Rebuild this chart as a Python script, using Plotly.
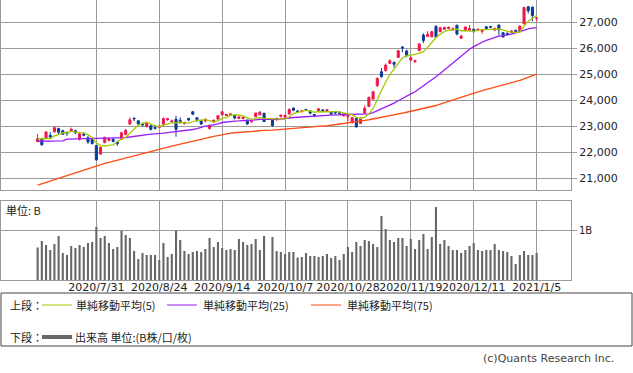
import plotly.graph_objects as go

W, H = 633, 373

dates = [
    "2020/7/9", "2020/7/10", "2020/7/13", "2020/7/14", "2020/7/15", "2020/7/16", "2020/7/17", "2020/7/20",
    "2020/7/21", "2020/7/22", "2020/7/27", "2020/7/28", "2020/7/29", "2020/7/30", "2020/7/31",
    "2020/8/3", "2020/8/4", "2020/8/5", "2020/8/6", "2020/8/7", "2020/8/11", "2020/8/12", "2020/8/13",
    "2020/8/14", "2020/8/17", "2020/8/18", "2020/8/19", "2020/8/20", "2020/8/21", "2020/8/24", "2020/8/25",
    "2020/8/26", "2020/8/27", "2020/8/28", "2020/8/31",
    "2020/9/1", "2020/9/2", "2020/9/3", "2020/9/4", "2020/9/7", "2020/9/8", "2020/9/9", "2020/9/10",
    "2020/9/11", "2020/9/14", "2020/9/15", "2020/9/16", "2020/9/17", "2020/9/18", "2020/9/23", "2020/9/24",
    "2020/9/25", "2020/9/28", "2020/9/29", "2020/9/30",
    "2020/10/1", "2020/10/2", "2020/10/5", "2020/10/6", "2020/10/7", "2020/10/8", "2020/10/9", "2020/10/12",
    "2020/10/13", "2020/10/14", "2020/10/15", "2020/10/16", "2020/10/19", "2020/10/20", "2020/10/21",
    "2020/10/22", "2020/10/23", "2020/10/26", "2020/10/27", "2020/10/28", "2020/10/29", "2020/10/30",
    "2020/11/2", "2020/11/4", "2020/11/5", "2020/11/6", "2020/11/9", "2020/11/10", "2020/11/11", "2020/11/12",
    "2020/11/13", "2020/11/16", "2020/11/17", "2020/11/18", "2020/11/19", "2020/11/20", "2020/11/24",
    "2020/11/25", "2020/11/26", "2020/11/27", "2020/11/30",
    "2020/12/1", "2020/12/2", "2020/12/3", "2020/12/4", "2020/12/7", "2020/12/8", "2020/12/9", "2020/12/10",
    "2020/12/11", "2020/12/14", "2020/12/15", "2020/12/16", "2020/12/17", "2020/12/18", "2020/12/21",
    "2020/12/22", "2020/12/23", "2020/12/24", "2020/12/25", "2020/12/28", "2020/12/29", "2020/12/30",
    "2021/1/4", "2021/1/5",
]

opens = [
    22410, 22530, 22540, 22650, 22790, 22920, 22830, 22760, 22820, 22830,
    22500, 22700, 22560, 22540, 22260, 21930, 22370, 22460, 22500, 22400,
    22500, 22680, 23090, 23310, 23210, 23090, 22990, 23020, 22960, 22950,
    23080, 23260, 23180, 23270, 23230, 23100, 23300, 23560, 23330, 23220,
    23200, 22920, 23170, 23280, 23440, 23410, 23420, 23430, 23300, 23300,
    23240, 23170, 23370, 23440, 23500, None, 23240, 23260, 23380, 23360,
    23470, 23700, 23590, 23560, 23650, 23590, 23460, 23560, 23630, 23570,
    23540, 23540, 23550, 23400, 23370, 23140, 23300, 23110, 23510, 23760,
    24050, 24560, 25100, 25140, 25420, 25460, 25650, 26050, 25900, 25550,
    25480, 25910, 26510, 26450, 26440, 26850, 26640, 26730, 26760, 26700,
    26890, 26390, 26680, 26700, 26730, 26700, 26650, 26830, 26840, 26700,
    26900, 26600, 26580, 26600, 26690, 26650, 26940, 27600, 27580, 27150,
]

highs = [
    22700, 22560, 22800, 22780, 22990, 22940, 22870, 22810, 22950, 22870,
    22760, 22760, 22620, 22560, 22280, 22230, 22600, 22560, 22560, 22430,
    22790, 22900, 23340, 23340, 23250, 23150, 23130, 23040, 23050, 23060,
    23340, 23330, 23260, 23400, 23340, 23180, 23330, 23580, 23360, 23260,
    23300, 23070, 23260, 23420, 23580, 23480, 23500, 23440, 23380, 23370,
    23250, 23230, 23520, 23590, 23520, None, 23260, 23320, 23440, 23450,
    23690, 23720, 23630, 23630, 23660, 23610, 23470, 23700, 23660, 23660,
    23570, 23560, 23560, 23510, 23460, 23360, 23340, 23350, 23800, 24150,
    24370, 24890, 25240, 25420, 25580, 25490, 25940, 26080, 25950, 25680,
    25560, 26200, 26580, 26660, 26660, 26870, 26830, 26830, 26830, 26800,
    26900, 26520, 26840, 26890, 26760, 26760, 26700, 26850, 26860, 26800,
    26900, 26620, 26600, 26700, 26720, 26880, 27600, 27620, 27610, 27200,
]

lows = [
    22390, 22250, 22530, 22520, 22760, 22690, 22680, 22630, 22800, 22700,
    22450, 22620, 22330, 22300, 21680, 21900, 22350, 22410, 22380, 22250,
    22480, 22660, 23050, 23200, 23050, 23000, 22960, 22840, 22880, 22950,
    23060, 23210, 23140, 22600, 23100, 23070, 23200, 23430, 23200, 23050,
    23150, 22870, 23130, 23250, 23430, 23400, 23410, 23270, 23280, 23260,
    23060, 23150, 23350, 23430, 23170, None, 22980, 23200, 23340, 23300,
    23460, 23580, 23520, 23540, 23600, 23460, 23350, 23550, 23540, 23560,
    23440, 23470, 23480, 23390, 23200, 23100, 22950, 23090, 23480, 23740,
    24020, 24520, 24880, 25110, 25400, 25250, 25630, 25850, 25650, 25500,
    25460, 25900, 26200, 26440, 26430, 26400, 26620, 26700, 26740, 26680,
    26500, 26360, 26660, 26640, 26600, 26680, 26560, 26720, 26780, 26680,
    26490, 26420, 26500, 26580, 26620, 26600, 26920, 27340, 27040, 27040,
]

closes = [
    22529, 22291, 22785, 22587, 22946, 22770, 22696, 22717, 22884, 22752,
    22716, 22657, 22397, 22339, 21710, 22195, 22574, 22515, 22418, 22330,
    22750, 22844, 23250, 23289, 23097, 23051, 23111, 22881, 22920, 22986,
    23297, 23291, 23209, 22883, 23140, 23138, 23247, 23466, 23205, 23090,
    23274, 23033, 23235, 23406, 23559, 23455, 23476, 23319, 23360, 23346,
    23088, 23205, 23512, 23539, 23185, None, 23030, 23312, 23434, 23423,
    23647, 23620, 23559, 23602, 23627, 23507, 23411, 23671, 23567, 23639,
    23474, 23517, 23494, 23486, 23419, 23332, 22977, 23295, 23695, 24105,
    24325, 24840, 24906, 25350, 25521, 25386, 25907, 26015, 25728, 25634,
    25527, 26166, 26297, 26537, 26645, 26434, 26788, 26801, 26809, 26751,
    26547, 26467, 26818, 26756, 26653, 26732, 26688, 26757, 26807, 26763,
    26714, 26436, 26525, 26668, 26657, 26854, 27568, 27444, 27258, 27159,
]

ma5 = [
    22521, 22518, 22532, 22526, 22628, 22676, 22757, 22743, 22803, 22764,
    22753, 22745, 22681, 22572, 22364, 22260, 22243, 22267, 22282, 22406,
    22517, 22571, 22718, 22893, 23046, 23106, 23160, 23086, 23012, 22990,
    23039, 23075, 23141, 23133, 23164, 23132, 23123, 23175, 23239, 23229,
    23256, 23214, 23167, 23208, 23301, 23338, 23426, 23443, 23434, 23391,
    23318, 23264, 23302, 23338, 23306, None, 23294, 23316, 23300, 23277,
    23369, 23487, 23537, 23570, 23611, 23583, 23541, 23564, 23557, 23559,
    23552, 23574, 23538, 23522, 23478, 23450, 23342, 23302, 23344, 23481,
    23679, 24052, 24374, 24705, 24988, 25201, 25414, 25636, 25711, 25734,
    25762, 25814, 25870, 26032, 26234, 26416, 26540, 26641, 26695, 26717,
    26739, 26675, 26678, 26668, 26648, 26685, 26729, 26717, 26727, 26749,
    26746, 26695, 26649, 26621, 26600, 26628, 26854, 27038, 27156, 27257,
]

ma25 = [
    22425, 22428, 22430, 22432, 22435, 22438, 22440, 22505, 22510, 22512,
    22515, 22518, 22520, 22522, 22520, 22522, 22527, 22532, 22536, 22540,
    22545, 22567, 22588, 22615, 22642, 22662, 22695, 22699, 22712, 22714,
    22735, 22759, 22779, 22778, 22794, 22811, 22834, 22877, 22912, 22967,
    23010, 23029, 23057, 23097, 23146, 23174, 23200, 23202, 23205, 23215,
    23217, 23220, 23246, 23270, 23278, None, 23268, 23269, 23277, 23299,
    23319, 23339, 23351, 23356, 23374, 23390, 23396, 23421, 23434, 23444,
    23440, 23443, 23444, 23450, 23453, 23452, 23448, 23451, 23459, 23481,
    23527, 23599, 23663, 23740, 23823, 23893, 23985, 24083, 24168, 24248,
    24329, 24439, 24544, 24663, 24783, 24902, 25032, 25165, 25297, 25431,
    25559, 25699, 25840, 25962, 26064, 26161, 26234, 26308, 26367, 26416,
    26470, 26491, 26511, 26549, 26590, 26643, 26699, 26745, 26773, 26794,
]

ma75 = [
    20742, 20795, 20848, 20900, 20952, 21005, 21058, 21110, 21163, 21216,
    21268, 21321, 21374, 21430, 21480, 21525, 21570, 21612, 21655, 21700,
    21745, 21790, 21830, 21872, 21915, 21958, 22000, 22040, 22080, 22118,
    22155, 22195, 22235, 22275, 22315, 22355, 22395, 22433, 22470, 22505,
    22540, 22575, 22610, 22645, 22680, 22712, 22735, 22752, 22768, 22782,
    22795, 22807, 22818, 22829, 22840, None, 22851, 22862, 22874, 22886,
    22899, 22912, 22925, 22938, 22951, 22965, 22979, 22993, 23008, 23023,
    23040, 23060, 23080, 23102, 23125, 23150, 23175, 23200, 23225, 23252,
    23280, 23308, 23338, 23370, 23402, 23435, 23470, 23505, 23540, 23575,
    23610, 23645, 23680, 23717, 23755, 23800, 23850, 23905, 23960, 24015,
    24070, 24125, 24178, 24230, 24280, 24325, 24368, 24410, 24450, 24490,
    24530, 24570, 24610, 24660, 24710, 24765, 24820, 24880, 24945, 25010,
]

volume_b = [
    0.65, 0.78, 0.70, 0.60, 0.72, 0.88, 0.54, 0.50, 0.68, 0.64,
    0.70, 0.66, 0.74, 0.76, 1.06, 0.84, 0.88, 0.74, 0.62, 0.66,
    0.99, 0.90, 0.84, 0.58, 0.42, 0.54, 0.50, 0.50, 0.50, 0.40,
    0.74, 0.46, 0.52, 0.99, 0.80, 0.58, 0.52, 0.56, 0.58, 0.56,
    0.62, 0.84, 0.66, 0.76, 0.64, 0.60, 0.62, 0.60, 0.82, 0.76,
    0.70, 0.72, 0.82, 0.60, 0.88, None, 0.86, 0.58, 0.56, 0.52,
    0.56, 0.56, 0.45, 0.46, 0.54, 0.48, 0.48, 0.46, 0.48, 0.52,
    0.44, 0.48, 0.40, 0.52, 0.66, 0.56, 0.76, 0.68, 0.80, 0.78,
    0.72, 0.66, 1.28, 1.02, 0.80, 0.76, 0.84, 0.84, 0.68, 0.82,
    0.62, 0.80, 0.92, 0.62, 0.86, 1.46, 0.72, 0.80, 0.68, 0.60,
    0.60, 0.54, 0.60, 0.68, 0.74, 0.60, 0.58, 0.60, 0.60, 0.72,
    0.60, 0.58, 0.56, 0.48, 0.32, 0.50, 0.58, 0.50, 0.50, 0.54,
]

date_ticks = ["2020/7/31", "2020/8/24", "2020/9/14", "2020/10/7",
              "2020/10/28", "2020/11/19", "2020/12/11", "2021/1/5"]
price_ticks = [21000, 22000, 23000, 24000, 25000, 26000, 27000]
volume_ticks = [1]
volume_tick_text = ["1B"]

legend_items = ["単純移動平均(5)", "単純移動平均(25)", "単純移動平均(75)"]

RED = "#f2174a"
BLUE = "#0b3a98"
GREEN = "#a2c800"
PURPLE = "#9b1cf2"
ORANGE = "#ff4a12"
GRID = "#9a9a9a"
VOLC = "#676767"
JP = "Noto Sans CJK JP, DejaVu Sans"


def px(x):
    return x / W


def py(y):
    return 1 - y / H


fig = go.Figure()
fig.add_trace(go.Candlestick(
    x=dates, open=opens, high=highs, low=lows, close=closes,
    increasing=dict(line=dict(color=RED, width=1), fillcolor=RED),
    decreasing=dict(line=dict(color=BLUE, width=1), fillcolor=BLUE),
    whiskerwidth=0, xaxis="x", yaxis="y", showlegend=False, hoverinfo="skip",
))
for vals, col in [(ma75, ORANGE), (ma25, PURPLE), (ma5, GREEN)]:
    fig.add_trace(go.Scatter(
        x=dates, y=vals, mode="lines", line=dict(color=col, width=1.3),
        connectgaps=True, xaxis="x", yaxis="y", showlegend=False, hoverinfo="skip",
    ))
fig.add_trace(go.Bar(
    x=dates, y=volume_b, marker=dict(color=VOLC, line=dict(width=0)),
    xaxis="x2", yaxis="y2", showlegend=False, hoverinfo="skip",
))

xdom = [px(1), px(571)]
xrange = [-8.74, 127.2]
common_x = dict(
    type="category", categoryorder="array", categoryarray=dates,
    domain=xdom, range=xrange, tickmode="array", tickvals=date_ticks,
    showgrid=True, gridcolor=GRID, gridwidth=1, showline=True, linecolor=GRID,
    linewidth=1, mirror=True, ticks="", zeroline=False, fixedrange=True,
    automargin=False,
)

fig.update_layout(
    width=W, height=H,
    margin=dict(l=0, r=0, t=0, b=0, autoexpand=False),
    paper_bgcolor="white", plot_bgcolor="white",
    font=dict(family="DejaVu Sans, Noto Sans CJK JP", size=11, color="#222"),
    bargap=0.5,
    xaxis=dict(common_x, anchor="y", showticklabels=False, rangeslider=dict(visible=False)),
    xaxis2=dict(common_x, anchor="y2", showticklabels=True, tickangle=0,
                ticklabelstandoff=-3, tickfont=dict(size=11, color="#222")),
    yaxis=dict(
        domain=[py(190), py(0)], range=[20550, 27858], side="right", anchor="x",
        tickmode="array", tickvals=price_ticks, tickformat=",d",
        ticks="outside", ticklen=5, tickcolor=GRID,
        showgrid=True, gridcolor=GRID, showline=True, linecolor=GRID, mirror=True,
        zeroline=False, fixedrange=True, automargin=False,
        tickfont=dict(size=11, color="#222"),
    ),
    yaxis2=dict(
        domain=[py(280), py(201)], range=[0, 1.58], side="right", anchor="x2",
        tickmode="array", tickvals=volume_ticks, ticktext=volume_tick_text,
        ticks="outside", ticklen=5, tickcolor=GRID,
        showgrid=True, gridcolor=GRID, showline=True, linecolor=GRID, mirror=True,
        zeroline=False, fixedrange=True, automargin=False,
        tickfont=dict(size=10, color="#222"),
    ),
)

shapes = [
    dict(type="rect", xref="paper", yref="paper", x0=px(1), x1=px(632), y0=py(346), y1=py(293),
         line=dict(color="#444", width=1), fillcolor="rgba(0,0,0,0)"),
]


def note(text, x, y, anchor="left", family=JP, color="#222", size=11):
    return dict(text=text, xref="paper", yref="paper", x=px(x), y=py(y),
                xanchor=anchor, yanchor="middle", showarrow=False, borderpad=0,
                font=dict(size=size, family=family, color=color))


ROW1, ROW2 = 305, 337
annotations = [
    note("単位: B", 5, 210),
    note("(c)Quants Research Inc.", 615, 358, anchor="right", family="DejaVu Sans", color="#444"),
    note("上段：", 9, ROW1),
    note("下段：", 9, ROW2),
    note("出来高 単位:(B株/口/枚)", 74, ROW2),
]
leg_pos = [(42, 72, 75), (167, 197, 202), (311, 341, 346)]
for (x0, x1, tx), col, label in zip(leg_pos, [GREEN, PURPLE, ORANGE], legend_items):
    shapes.append(dict(type="line", xref="paper", yref="paper", x0=px(x0), x1=px(x1),
                       y0=py(ROW1), y1=py(ROW1), line=dict(color=col, width=1)))
    annotations.append(note(label, tx, ROW1))
shapes.append(dict(type="line", xref="paper", yref="paper", x0=px(42), x1=px(72),
                   y0=py(ROW2), y1=py(ROW2), line=dict(color=VOLC, width=4)))

fig.update_layout(shapes=shapes, annotations=annotations)
fig.write_html(
    "out.html",
    config={"displayModeBar": False, "staticPlot": True},
    post_script="document.body.style.margin='0px';document.body.style.overflow='hidden';",
)
